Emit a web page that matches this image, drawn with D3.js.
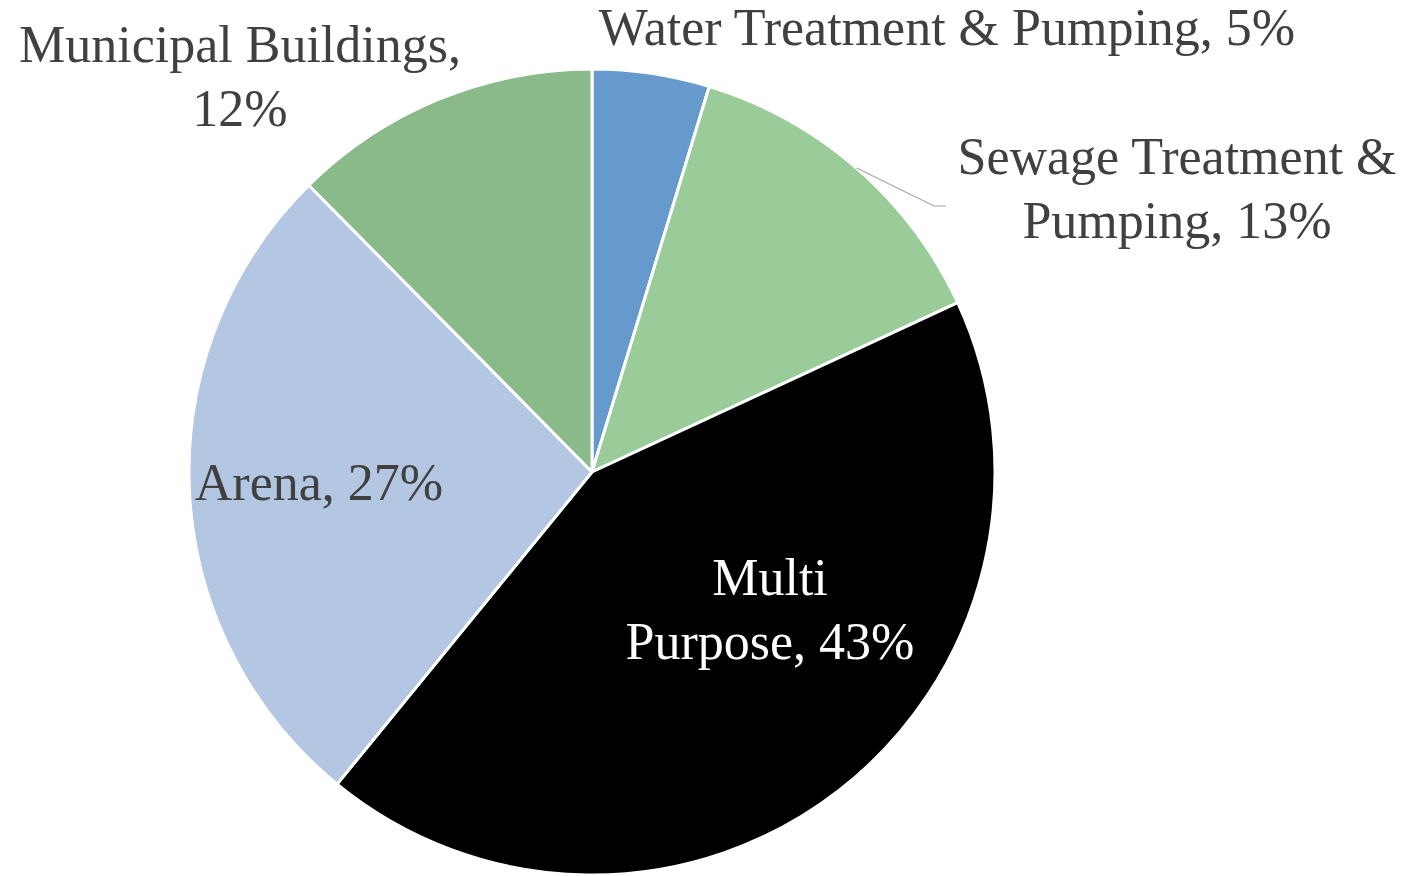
<!DOCTYPE html>
<html>
<head>
<meta charset="utf-8">
<script src="https://cdn.jsdelivr.net/npm/d3@7"></script>
<style>
  html, body { margin: 0; padding: 0; background: #fff; }
  svg { display: block; }
</style>
</head>
<body>
<svg id="chart" width="1410" height="876"></svg>
<script>
// ---- data ----
const categories = ["Water Treatment & Pumping", "Sewage Treatment & Pumping", "Multi Purpose", "Arena", "Municipal Buildings"];
// slice sizes (labels show the rounded percentages)
const shares = [4.7, 13.4, 42.8, 26.7, 12.4];
const labelPercents = ["5%", "13%", "43%", "27%", "12%"];
const colors = ["#6699CC", "#99CC99", "#000000", "#B4C7E2", "#8AB98A"];
// label text lines (as shown in the chart)
const labelLines = [
  ["Water Treatment & Pumping, " + labelPercents[0]],
  ["Sewage Treatment &", "Pumping, " + labelPercents[1]],
  ["Multi", "Purpose, " + labelPercents[2]],
  ["Arena, " + labelPercents[3]],
  ["Municipal Buildings,", labelPercents[4]]
];

// ---- layout ----
const W = 1410, H = 876;
const cx = 592, cy = 472, R = 403;
const fontSize = 52, lineH = 64;
// label anchor (center x, first baseline y) for each slice
const labelPos = [
  [947, 45],
  [1177, 174],
  [770, 595],
  [319, 500],
  [240, 62]
];
const labelFill = ["#404040", "#404040", "#ffffff", "#404040", "#404040"];

const svg = d3.select("#chart");
const g = svg.append("g").attr("transform", `translate(${cx},${cy})`);

const data = categories.map((c, i) => ({ name: c, value: shares[i], color: colors[i], i }));
const pie = d3.pie().value(d => d.value).sort(null);
const arc = d3.arc().innerRadius(0).outerRadius(R);
const arcs = pie(data);

g.selectAll("path.slice")
  .data(arcs)
  .join("path")
  .attr("class", "slice")
  .attr("d", arc)
  .attr("fill", d => d.data.color)
  .attr("stroke", "#ffffff")
  .attr("stroke-width", 3)
  .attr("stroke-linejoin", "round");

// leader line for the sewage label
const sew = arcs[1];
const mid = (sew.startAngle + sew.endAngle) / 2;
const p0 = [cx + R * Math.sin(mid), cy - R * Math.cos(mid)];
svg.append("polyline")
  .attr("points", [p0, [934, 206], [946, 206]].map(p => p.join(",")).join(" "))
  .attr("fill", "none")
  .attr("stroke", "#A6A6A6")
  .attr("stroke-width", 1.2);

// labels
const labels = svg.append("g")
  .attr("font-family", "'Liberation Serif', 'Times New Roman', serif")
  .attr("font-size", fontSize)
  .attr("text-anchor", "middle");

labelLines.forEach((lines, i) => {
  const t = labels.append("text")
    .attr("x", labelPos[i][0])
    .attr("y", labelPos[i][1])
    .attr("fill", labelFill[i]);
  lines.forEach((ln, k) => {
    t.append("tspan")
      .attr("x", labelPos[i][0])
      .attr("y", labelPos[i][1] + k * lineH)
      .text(ln);
  });
});
</script>
</body>
</html>
